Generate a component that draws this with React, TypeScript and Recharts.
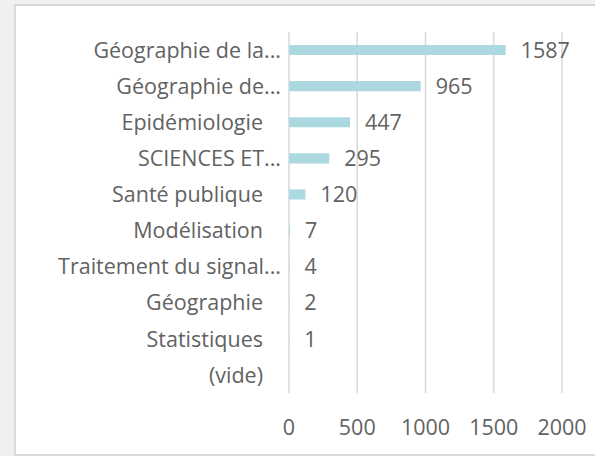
import React from "react";
import { BarChart, Bar, XAxis, YAxis, CartesianGrid, LabelList } from "recharts";

const categories = [
  "Géographie de la...",
  "Géographie de...",
  "Epidémiologie",
  "SCIENCES ET...",
  "Santé publique",
  "Modélisation",
  "Traitement du signal...",
  "Géographie",
  "Statistiques",
  "(vide)",
];
const values: (number | null)[] = [1587, 965, 447, 295, 120, 7, 4, 2, 1, null];
const xTicks = [0, 500, 1000, 1500, 2000];

const data = categories.map((c, i) => ({ name: c, value: values[i] }));

const FONT = "'Open Sans', Lato, sans-serif";
const TEXT = "#626262";
const FS = 21.5;

const CatTick = (props: any) => {
  const { x, y, payload } = props;
  const label: string = payload.value;
  const truncated = label.endsWith("...");
  return (
    <text
      x={truncated ? x : x - 18}
      y={y}
      dy="0.36em"
      textAnchor="end"
      fill={TEXT}
      fontFamily={FONT}
      fontSize={FS}
    >
      {label}
    </text>
  );
};

const ValueLabel = (props: any) => {
  const { x, y, width, height, value } = props;
  if (value === null || value === undefined) return null;
  return (
    <text
      x={x + width + 15}
      y={y + height / 2}
      dy="0.36em"
      textAnchor="start"
      fill={TEXT}
      fontFamily={FONT}
      fontSize={FS}
    >
      {value}
    </text>
  );
};

export default function App() {
  return (
    <div
      style={{
        position: "absolute",
        left: 0,
        top: 0,
        width: 595,
        height: 456,
        background: "#f0f0f0",
        overflow: "hidden",
      }}
    >
      <div
        style={{
          position: "absolute",
          left: 14,
          top: 4,
          width: 600,
          height: 448,
          background: "#ffffff",
          border: "2px solid #d9d9d9",
        }}
      />
      <div style={{ position: "absolute", left: 0, top: 0 }}>
        <BarChart
          width={595}
          height={456}
          data={data}
          layout="vertical"
          margin={{ top: 32, right: 33, bottom: 0, left: 0 }}
          barCategoryGap="64%"
        >
          <CartesianGrid horizontal={false} stroke="#d9d9d9" strokeWidth={1.5} />
          <XAxis
            type="number"
            domain={[0, 2000]}
            ticks={xTicks}
            axisLine={false}
            tickLine={false}
            height={63}
            tickMargin={21}
            tick={{ fill: TEXT, fontFamily: FONT, fontSize: FS }}
          />
          <YAxis
            type="category"
            dataKey="name"
            width={289}
            axisLine={false}
            tickLine={false}
            tickMargin={2}
            tick={<CatTick />}
            interval={0}
          />
          <Bar dataKey="value" fill="#acd8e0" isAnimationActive={false}>
            <LabelList dataKey="value" content={<ValueLabel />} />
          </Bar>
        </BarChart>
      </div>
    </div>
  );
}
